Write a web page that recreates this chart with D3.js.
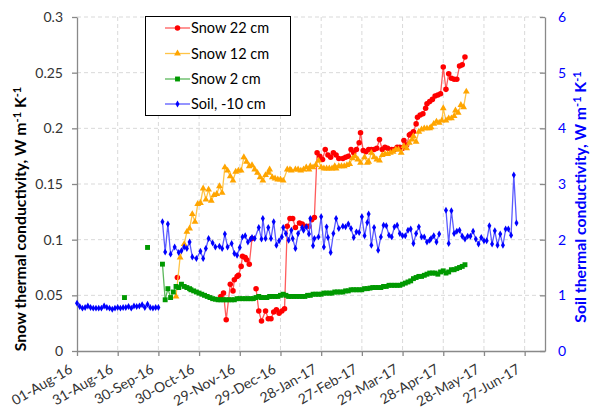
<!DOCTYPE html>
<html><head><meta charset="utf-8">
<script src="https://cdn.jsdelivr.net/npm/d3@7"></script>
<style>body{margin:0;background:#fff} text{font-family:Lato,"Open Sans",sans-serif}</style>
</head><body><svg id="c" width="590" height="413"></svg>
<script>
// Day offsets from 01-Aug-2016; null marks a gap in the line
const startDate = "2016-08-01";
const xTickLabels = ["01-Aug-16","31-Aug-16","30-Sep-16","30-Oct-16","29-Nov-16","29-Dec-16","28-Jan-17","27-Feb-17","29-Mar-17","28-Apr-17","28-May-17","27-Jun-17"];
const yLeftTicks = [0,0.05,0.1,0.15,0.2,0.25,0.3];
const yLeftLabels = ["0","0.05","0.1","0.15","0.2","0.25","0.3"];
const yRightTicks = [0,1,2,3,4,5,6];
const seriesNames = ["Snow 22 cm","Snow 12 cm","Snow 2 cm","Soil, -10 cm"];

const snow22 = [[74,0.066],[76,null],
[106,0.049],[108,0.052],[110,0.028],[113,0.060],[115,0.054],[116,0.064],[118,0.067],[119,0.068],[121,0.076],[122,0.085],[124,0.084],[125,0.082],[127,0.078],[129,0.101],[130,null],
[132,0.056],[134,0.036],[136,0.027],[139,0.036],[141,0.029],[143,0.029],[145,0.035],[147,0.037],[149,0.034],[151,0.036],[153,0.038],
[155,0.112],[157,0.119],[159,0.119],[161,0.111],[164,0.115],[166,0.114],[169,0.112],[171,0.112],[173,0.118],[175,0.120],
[177,0.178],[179,0.175],[181,0.172],[183,0.181],[185,0.176],[187,0.174],[189,0.178],[191,0.176],[193,0.173],[196,0.173],[198,0.174],[200,0.175],[202,0.181],[204,0.178],[206,0.181],[208,0.187],[209,0.196],[211,0.180],[213,0.179],[215,0.181],[217,0.181],[219,0.181],[221,0.182],[223,0.190],[225,0.181],[227,0.183],[229,0.182],[232,0.181],[234,0.181],[236,0.183],[238,0.183],[240,0.182],[241,0.189],[243,0.185],[245,0.194],[246,0.195],[248,0.197],[250,0.204],[251,0.210],[253,0.212],[255,0.213],[257,0.218],[258,0.222],[260,0.224],[262,0.226],[264,0.229],[266,0.230],[268,0.231],[270,0.255],[272,0.235],[274,0.249],[276,0.245],[278,0.244],[280,0.244],[282,0.256],[284,0.257],[286,0.264]];

const snow12 = [[73,0.049],[76,0.084],[79,0.096],[81,0.107],[83,0.110],[85,0.123],[87,0.116],[89,0.132],[91,0.133],[93,0.146],[95,0.136],[97,0.145],[99,0.135],[101,0.140],[103,0.141],[105,0.148],[107,0.142],[109,0.165],[111,0.162],[113,0.157],[115,0.153],[117,0.161],[119,0.162],[121,0.162],[123,0.174],[125,0.170],[127,0.166],[129,0.167],[131,0.163],[133,0.160],[135,0.156],[137,0.153],[139,0.158],[141,0.160],[142,0.163],[144,0.156],[146,0.155],[148,0.154],[150,0.154],[152,0.153],[155,0.163],[157,0.163],[158,0.162],[161,0.163],[163,0.163],[165,0.162],[167,0.163],[169,0.165],[171,0.163],[172,0.166],[174,0.165],[176,0.167],[178,0.171],[180,0.165],[182,0.164],[184,0.164],[186,0.164],[188,0.164],[190,0.166],[191,0.164],[193,0.166],[195,0.166],[197,0.166],[199,0.167],[201,0.168],[203,0.173],[205,0.175],[207,0.172],[209,0.169],[212,0.174],[214,0.169],[215,0.170],[217,0.178],[219,0.174],[221,0.172],[223,0.171],[225,0.176],[227,0.177],[229,0.177],[231,0.178],[233,0.179],[235,0.181],[237,0.181],[239,0.178],[241,0.184],[243,0.182],[245,0.187],[247,0.190],[248,0.193],[250,0.188],[252,0.197],[254,0.199],[256,0.200],[258,0.200],[260,0.200],[261,0.201],[263,0.204],[265,0.206],[267,0.205],[269,0.207],[270,0.218],[272,0.207],[274,0.209],[276,0.209],[278,0.211],[279,0.216],[281,0.214],[283,0.221],[285,0.219],[287,0.233]];

const snow2 = [[35,0.048],[40,null],[52,0.093],[56,null],
[63,0.078],[65,0.046],[67,0.056],[69,0.048],[71,0.053],[73,0.058],[75,0.057],[77,0.060],[79,0.058],[81,0.057],[83,0.056],[84,0.055],[86,0.054],[88,0.053],[90,0.052],[92,0.051],[94,0.050],[96,0.049],[98,0.048],[100,0.047],[102,0.0465],[104,0.046],
[106,0.046],[108,0.046],[110,0.046],[112,0.046],[114,0.046],[116,0.046],[118,0.047],[120,0.047],[122,0.047],[124,0.047],[126,0.047],[128,0.047],[130,0.047],[132,0.048],[134,0.049],[136,0.048],[138,0.048],[140,0.048],[142,0.049],[144,0.049],[146,0.049],[148,0.049],[150,0.050],[152,0.051],[154,0.050],[156,0.049],[158,0.049],[160,0.049],[162,0.049],[164,0.049],[166,0.049],[168,0.049],[170,0.050],[172,0.050],[174,0.051],[176,0.051],[178,0.051],[180,0.051],[182,0.052],[184,0.052],[186,0.052],[188,0.052],[190,0.053],[192,0.053],[194,0.053],[196,0.053],[198,0.054],[200,0.054],[202,0.055],[204,0.055],[206,0.055],[208,0.055],[210,0.055],[212,0.056],[214,0.056],[216,0.0565],[218,0.057],[220,0.057],[222,0.057],[224,0.057],[226,0.058],[228,0.058],[230,0.059],[232,0.059],[234,0.059],[236,0.059],[238,0.059],[240,0.060],[242,0.061],[244,0.062],[246,0.063],[248,0.065],[250,0.066],[252,0.067],[254,0.067],[256,0.068],[258,0.069],[260,0.070],[262,0.070],[264,0.070],[266,0.069],[268,0.071],[270,0.072],[272,0.070],[274,0.071],[276,0.073],[278,0.073],[280,0.074],[282,0.075],[284,0.076],[286,0.0775]];

const soil = [[0,0.86],[2,0.80],[4,0.77],[6,0.78],[8,0.81],[10,0.78],[12,0.77],[14,0.77],[16,0.77],[18,0.77],[20,0.81],[22,0.78],[24,0.77],[26,0.75],[28,0.77],[30,0.78],[32,0.77],[34,0.78],[36,0.78],[38,0.80],[40,0.77],[42,0.81],[44,0.80],[46,0.81],[48,0.83],[50,0.78],[52,0.84],[54,0.78],[56,0.77],[58,0.78],[60,0.78],[61,null],
[63,2.32],[65,1.78],[67,2.28],[69,1.74],[72,1.87],[75,1.77],[77,1.80],[79,1.87],[81,1.84],[83,1.96],[85,1.69],[88,1.66],[91,1.79],[93,1.66],[95,1.84],[97,2.02],[100,1.94],[102,1.87],[105,1.88],[107,1.84],[109,2.10],[111,1.87],[114,1.93],[116,1.75],[118,1.72],[120,1.86],[122,2.05],[124,2.07],[126,1.96],[128,2.01],[129,2.04],[131,2.02],[134,2.22],[136,2.01],[137,2.38],[139,2.02],[141,2.22],[143,2.02],[145,2.32],[147,1.90],[149,1.98],[151,2.05],[152,2.22],[154,2.11],[156,1.99],[158,2.17],[159,2.02],[161,1.84],[163,2.11],[166,2.22],[167,2.17],[169,2.23],[171,2.10],[172,2.38],[174,1.89],[175,2.02],[178,2.05],[180,2.41],[182,1.87],[184,2.23],[185,2.04],[187,1.77],[189,2.11],[191,2.38],[193,2.20],[196,2.24],[198,2.23],[200,2.28],[202,2.20],[204,2.04],[206,2.14],[208,2.13],[210,2.41],[212,2.07],[214,2.31],[215,2.46],[217,1.90],[219,2.22],[222,1.81],[224,2.05],[226,2.26],[228,2.25],[230,2.08],[232,2.05],[234,2.23],[236,2.26],[238,2.11],[240,2.07],[242,2.07],[244,2.17],[246,2.19],[248,1.93],[250,2.11],[252,2.23],[254,2.05],[256,2.05],[258,1.96],[260,1.99],[261,2.02],[263,2.07],[265,1.96],[267,2.10],[269,null],
[272,2.53],[274,1.93],[276,2.52],[278,2.11],[280,2.15],[282,2.17],[284,2.06],[286,2.01],[288,2.06],[290,2.06],[292,2.15],[294,2.01],[296,1.92],[298,2.04],[300,1.98],[302,1.98],[304,2.25],[306,1.92],[308,2.16],[310,1.90],[312,2.10],[314,1.90],[316,2.19],[318,2.19],[320,2.08],[322,3.16],[324,2.30]];

const svg = d3.select("#c");
const t0 = d3.timeParse("%Y-%m-%d")(startDate);
const toDate = d => d3.timeDay.offset(t0, d);
const L = 77, R = 545, T = 17, B = 351;
const x = d3.scaleTime().domain([t0, toDate(345)]).range([L, R]);
const y = d3.scaleLinear().domain([0, 0.3]).range([B, T]);
const y2 = d3.scaleLinear().domain([0, 6]).range([B, T]);
const xTicks = xTickLabels.map((_, i) => toDate(30 * i));

// grid
const grid = svg.append("g").attr("stroke", "#d9d9d9").attr("stroke-dasharray", "4,3").attr("stroke-width", 1);
yLeftTicks.slice(1).forEach(v => grid.append("line").attr("x1", L).attr("x2", R).attr("y1", y(v)).attr("y2", y(v)));
xTicks.slice(1).forEach(d => grid.append("line").attr("y1", T).attr("y2", B).attr("x1", x(d)).attr("x2", x(d)));

// axes
const axisColor = "#898989";
const gl = svg.append("g").attr("transform", `translate(${L},0)`)
  .call(d3.axisLeft(y).tickValues(yLeftTicks).tickFormat((d, i) => yLeftLabels[i]).tickSizeInner(5).tickSizeOuter(0).tickPadding(9));
const gr = svg.append("g").attr("transform", `translate(${R},0)`)
  .call(d3.axisRight(y2).tickValues(yRightTicks).tickFormat(d3.format("d")).tickSizeInner(-5).tickSizeOuter(0).tickPadding(13));
const gb = svg.append("g").attr("transform", `translate(0,${B})`)
  .call(d3.axisBottom(x).tickValues(xTicks).tickFormat((d, i) => xTickLabels[i]).tickSizeInner(5).tickSizeOuter(0));
[gl, gr, gb].forEach(g => {
  g.select(".domain").attr("stroke", axisColor).attr("stroke-width", 1.3);
  g.selectAll(".tick line").attr("stroke", axisColor).attr("stroke-width", 1.3);
  g.selectAll("text").attr("font-size", 14).attr("font-family", "Lato");
});
gl.selectAll("text").attr("fill", "#333");
gr.selectAll("text").attr("fill", "#0000ff");
gb.selectAll("text").attr("fill", "#333").attr("text-anchor", "end")
  .attr("y", 0).attr("dy", 0).attr("transform", "translate(-4,21) rotate(-30)");

// axis titles
function title(tx, ty, name, color) {
  const t = svg.append("text").attr("transform", `translate(${tx},${ty}) rotate(-90)`)
    .attr("text-anchor", "middle").attr("font-weight", "bold").attr("font-size", 15.8).attr("fill", color);
  t.append("tspan").text(name + ", W m");
  t.append("tspan").attr("dy", -5).attr("font-size", 11).text("-1");
  t.append("tspan").attr("dy", 5).text(" K");
  t.append("tspan").attr("dy", -5).attr("font-size", 11).text("-1");
}
title(26, 219, "Snow thermal conductivity", "#000");
title(586, 197, "Soil thermal conductivity", "#0000ff");

// series
const styles = [
  {data: snow22, ys: y, line: "#ff5c5c", mark: "#ff0000", sym: d3.symbolCircle, size: 24},
  {data: snow12, ys: y, line: "#ffc447", mark: "#ffa500", sym: d3.symbolTriangle, size: 20},
  {data: snow2, ys: y, line: "#5cb85c", mark: "#009900", sym: d3.symbolSquare, size: 24},
  {data: soil, ys: y2, line: "#5a5aff", mark: "#0000ff", sym: d3.symbolDiamond, size: 14}
];
styles.forEach(s => {
  const ln = d3.line().defined(d => d[1] != null).x(d => x(toDate(d[0]))).y(d => s.ys(d[1]));
  svg.append("path").datum(s.data).attr("d", ln).attr("fill", "none").attr("stroke", s.line).attr("stroke-width", 1.3);
  svg.append("g").selectAll("path").data(s.data.filter(d => d[1] != null)).join("path")
    .attr("transform", d => `translate(${x(toDate(d[0]))},${s.ys(d[1])})`)
    .attr("d", d3.symbol(s.sym, s.size)).attr("fill", s.mark);
});

// legend
const lg = svg.append("g");
lg.append("rect").attr("x", 145.5).attr("y", 16.5).attr("width", 145).attr("height", 99)
  .attr("fill", "#fff").attr("stroke", "#000").attr("stroke-width", 1);
const rowsY = [28, 53.5, 79, 104];
styles.forEach((s, i) => {
  const yy = rowsY[i];
  lg.append("line").attr("x1", 165).attr("x2", 190).attr("y1", yy).attr("y2", yy).attr("stroke", s.line).attr("stroke-width", 1.3);
  lg.append("path").attr("transform", `translate(177.5,${yy})`).attr("d", d3.symbol(s.sym, s.size)).attr("fill", s.mark);
  lg.append("text").attr("x", 191).attr("y", yy).attr("dy", "0.36em").attr("font-size", 14.5).attr("fill", "#000").text(seriesNames[i]);
});
</script></body></html>
